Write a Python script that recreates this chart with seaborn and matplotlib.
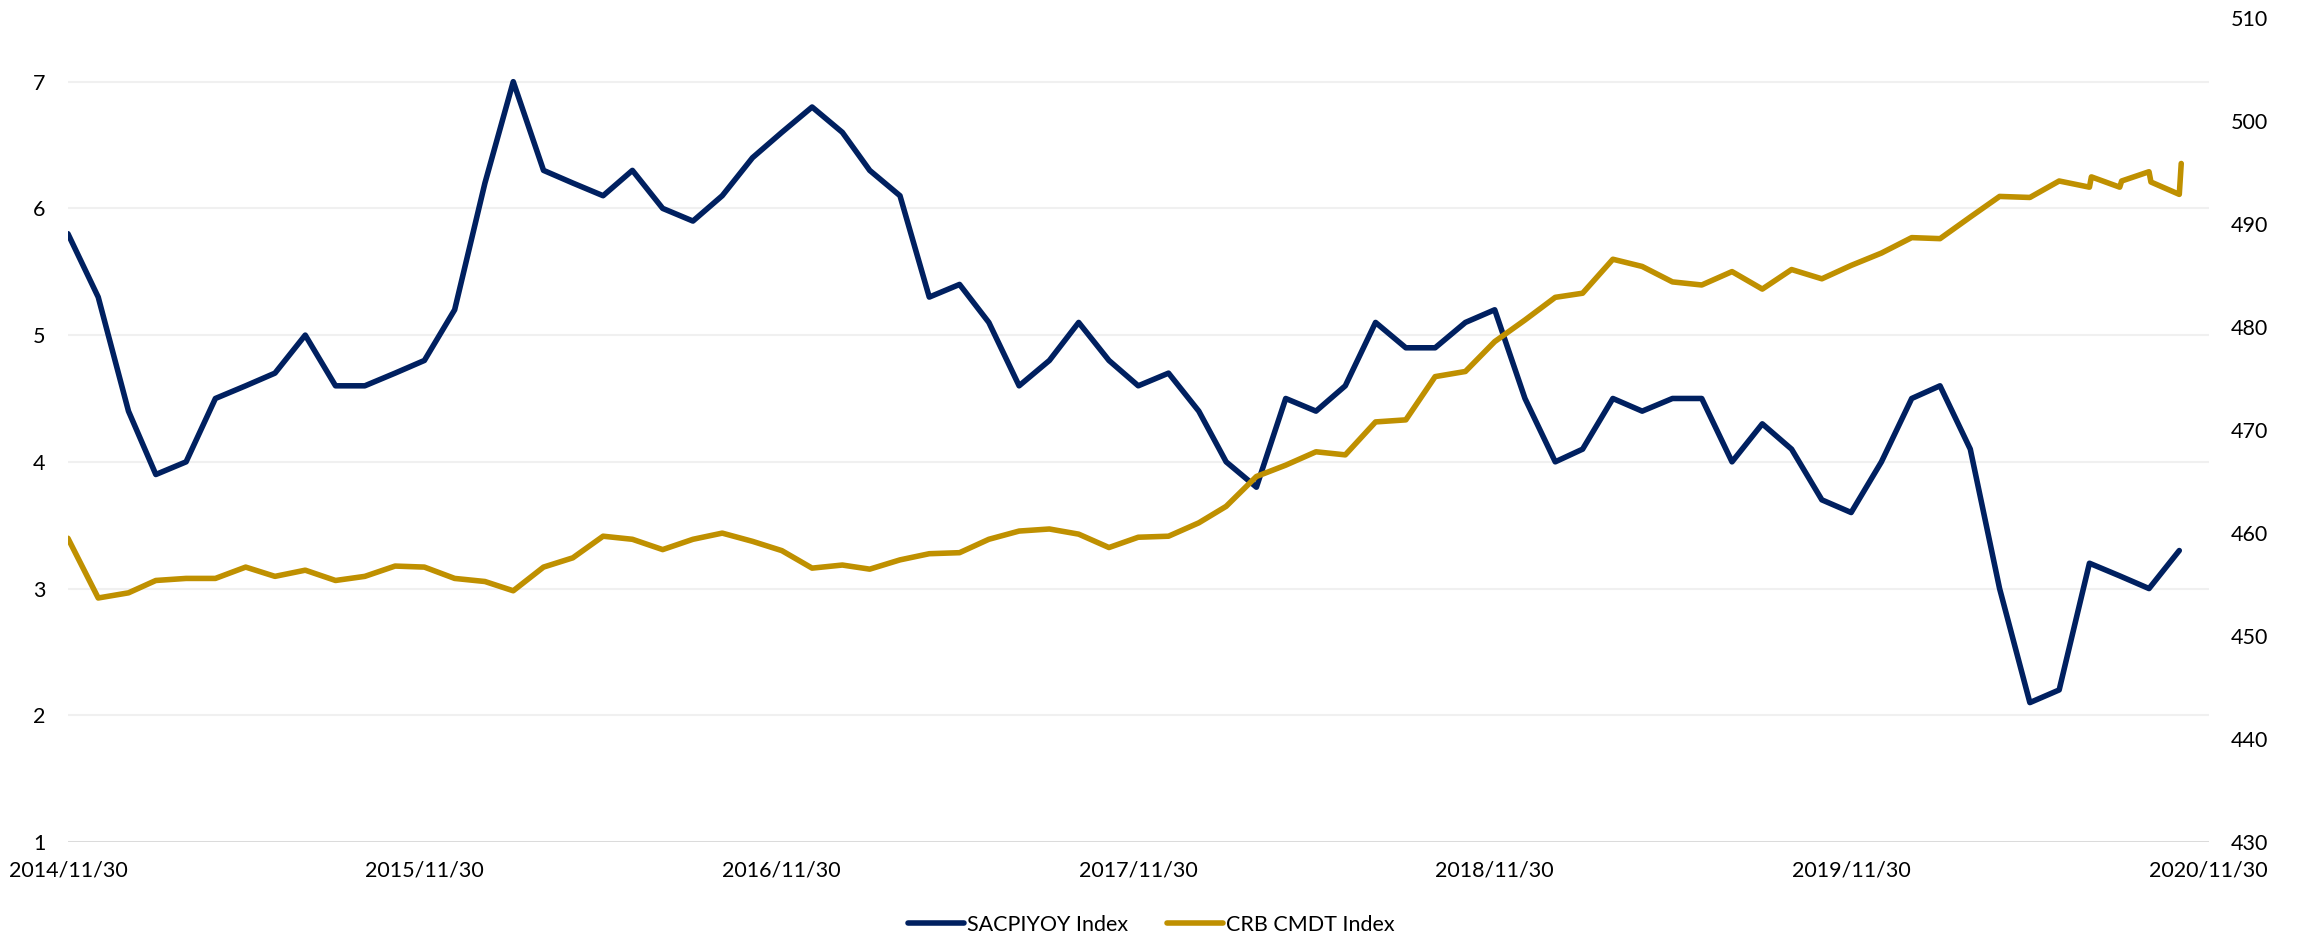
import numpy as np
import pandas as pd
import matplotlib
matplotlib.use("Agg")
import matplotlib.pyplot as plt
import matplotlib.dates as mdates
import seaborn as sns

# 数据
cpi_dates = pd.date_range("2014-11-30", periods=72, freq="ME")
cpi_values = [
    5.8, 5.3, 4.4, 3.9, 4.0, 4.5, 4.6, 4.7, 5.0, 4.6, 4.6, 4.7,
    4.8, 5.2, 6.2, 7.0, 6.3, 6.2, 6.1, 6.3, 6.0, 5.9, 6.1, 6.4,
    6.6, 6.8, 6.6, 6.3, 6.1, 5.3, 5.4, 5.1, 4.6, 4.8, 5.1, 4.8,
    4.6, 4.7, 4.4, 4.0, 3.8, 4.5, 4.4, 4.6, 5.1, 4.9, 4.9, 5.1,
    5.2, 4.5, 4.0, 4.1, 4.5, 4.4, 4.5, 4.5, 4.0, 4.3, 4.1, 3.7,
    3.6, 4.0, 4.5, 4.6, 4.1, 3.0, 2.1, 2.2, 3.2, 3.1, 3.0, 3.3,
]

# CRB 指数：前 68 个月为月末数据，最后四个月每月两个观测值
crb_monthly_dates = list(pd.date_range("2014-11-30", periods=68, freq="ME"))
crb_extra_dates = pd.to_datetime([
    "2020-07-31", "2020-08-02",
    "2020-08-31", "2020-09-02",
    "2020-09-30", "2020-10-02",
    "2020-10-31", "2020-11-02",
])
crb_dates = crb_monthly_dates + list(crb_extra_dates)
crb_values = [
    459.5, 453.7, 454.2, 455.4, 455.6, 455.6, 456.7, 455.8, 456.4, 455.4, 455.8, 456.8,
    456.7, 455.6, 455.3, 454.4, 456.7, 457.6, 459.7, 459.4, 458.4, 459.4, 460.0, 459.2,
    458.3, 456.6, 456.9, 456.5, 457.4, 458.0, 458.1, 459.4, 460.2, 460.4, 459.9, 458.6,
    459.6, 459.7, 461.0, 462.6, 465.5, 466.6, 467.9, 467.6, 470.8, 471.0, 475.2, 475.7,
    478.6, 480.7, 482.9, 483.3, 486.6, 485.9, 484.4, 484.1, 485.4, 483.7, 485.6, 484.7,
    486.0, 487.2, 488.7, 488.6, 490.7, 492.7, 492.6, 494.2,
    493.6, 494.6, 493.6, 494.2, 495.1, 494.1, 492.9, 495.9,
]

year_ticks = pd.to_datetime(["2014-11-30", "2015-11-30", "2016-11-30", "2017-11-30",
                             "2018-11-30", "2019-11-30", "2020-11-30"])
left_ticks = [1, 2, 3, 4, 5, 6, 7]
right_ticks = [430, 440, 450, 460, 470, 480, 490, 500, 510]

cpi_label = "SACPIYOY Index"
crb_label = "CRB CMDT Index"

sns.set_style("white")
plt.rcParams["font.family"] = ["Lato", "DejaVu Sans"]
plt.rcParams["font.size"] = 15.5
plt.rcParams["text.color"] = "black"

fig = plt.figure(figsize=(23.03, 9.39), dpi=100)
ax = fig.add_axes([0.0295, 0.1033, 0.9295, 0.8772])
ax2 = ax.twinx()

sns.lineplot(x=cpi_dates, y=cpi_values, ax=ax, color="#002060", linewidth=4,
             label=cpi_label, legend=False)
sns.lineplot(x=crb_dates, y=crb_values, ax=ax2, color="#BF9000", linewidth=4,
             label=crb_label, legend=False, sort=False)

ax.set_xlim(year_ticks[0], year_ticks[-1])
ax.set_ylim(1, 7.5)
ax2.set_ylim(430, 510)
ax.set_yticks(left_ticks)
ax2.set_yticks(right_ticks)
ax.set_xticks(year_ticks)
ax.xaxis.set_major_formatter(mdates.DateFormatter("%Y/%m/%d"))

ax.grid(axis="y", color="#F0F0F0", linewidth=1.5)
ax.grid(axis="x", visible=False)
ax.set_axisbelow(True)

for a in (ax, ax2):
    for side in ("top", "left", "right", "bottom"):
        a.spines[side].set_visible(False)
    a.set_xlabel("")
    a.set_ylabel("")
ax.axhline(1, color="#D9D9D9", linewidth=2, zorder=1)

ax.tick_params(axis="both", length=0, labelsize=15.5, colors="#000000")
ax.tick_params(axis="y", pad=16)
ax.tick_params(axis="x", pad=13)
ax2.tick_params(axis="y", length=0, labelsize=15.5, pad=16, colors="#000000")

h1, l1 = ax.get_legend_handles_labels()
h2, l2 = ax2.get_legend_handles_labels()
fig.legend(h1 + h2, l1 + l2, loc="center", bbox_to_anchor=(0.5, 14 / 939), ncol=2,
           frameon=False, fontsize=15.5, handlelength=2.6, handletextpad=0.15,
           columnspacing=1.8, labelcolor="black")

fig.savefig("out.png", dpi=100)
